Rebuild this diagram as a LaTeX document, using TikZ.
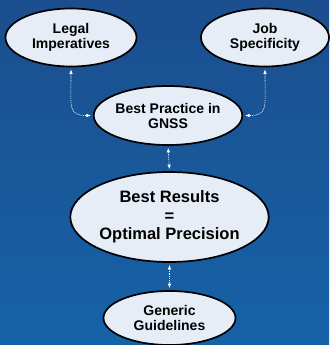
\documentclass[tikz,border=0pt]{standalone}
\usepackage{fontspec}
\setmainfont{Liberation Sans}
\usetikzlibrary{shapes.geometric,arrows.meta}
\definecolor{bgtop}{HTML}{1B4E8E}
\definecolor{bgbot}{HTML}{1662A7}
\definecolor{ellfill}{HTML}{E7EDF7}
\tikzset{
  bubble/.style={ellipse, draw=black, line width=1.7pt, fill=ellfill, inner sep=0pt,
    align=center, font=\bfseries\fontsize{14}{15}\selectfont},
  link/.style={white, line width=0.6pt, dash pattern=on 1.2pt off 1pt,
    {Latex[length=4.5pt,width=3.5pt]}-{Latex[length=4.5pt,width=3.5pt]}, shorten <=2pt, shorten >=2pt}
}
\begin{document}
\begin{tikzpicture}[x=1pt,y=-1pt]
\shade[top color=bgtop, bottom color=bgbot] (0,0) rectangle (329,345);
\useasboundingbox (0,0) rectangle (329,345);
\node[bubble, minimum width=131pt, minimum height=58pt] (legal) at (71,37.5) {Legal\\Imperatives};
\node[bubble, minimum width=128pt, minimum height=58pt] (job) at (265,37.5) {Job\\Specificity};
\node[bubble, minimum width=129pt, minimum height=59pt] (bp) at (168,115.5) {Best Practice in\\GNSS};
\node[bubble, minimum width=194pt, minimum height=90pt, font=\bfseries\fontsize{16.5}{18.5}\selectfont] (br) at (169.5,217) {Best Results\\=\\Optimal Precision};
\node[bubble, minimum width=132pt, minimum height=54pt] (gen) at (169.5,318) {Generic\\Guidelines};
\draw[link] (legal.south) .. controls +(0,40) and +(-25,0) .. (bp.west);
\draw[link] (job.south) .. controls +(0,40) and +(25,0) .. (bp.east);
\draw[link] (bp.south) -- (br.north);
\draw[link] (br.south) -- (gen.north);
\end{tikzpicture}
\end{document}
